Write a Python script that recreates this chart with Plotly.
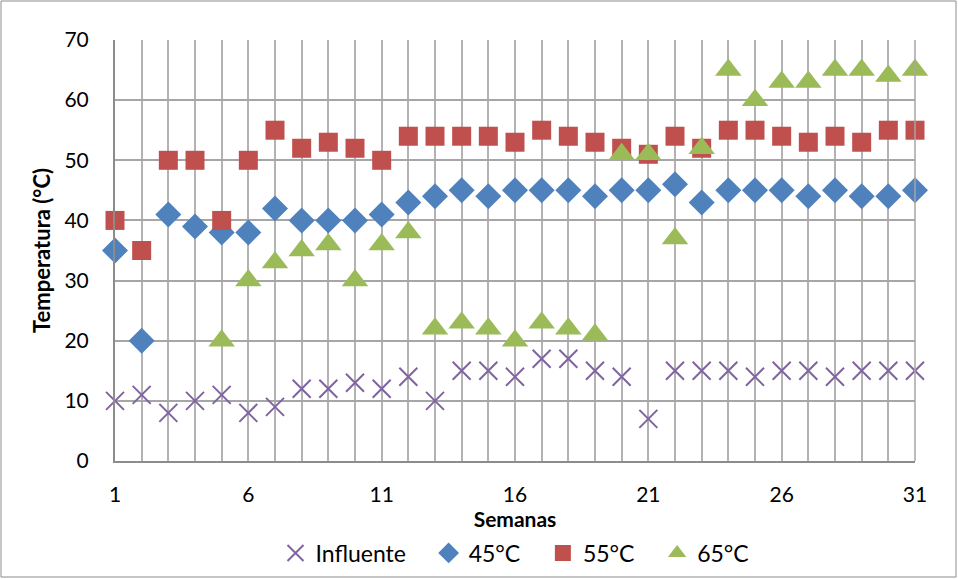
import plotly.graph_objects as go

weeks = list(range(1, 32))
influente = [10, 11, 8, 10, 11, 8, 9, 12, 12, 13, 12, 14, 10, 15, 15, 14, 17, 17, 15, 14, 7, 15, 15, 15, 14, 15, 15, 14, 15, 15, 15]
t45 = [35, 20, 41, 39, 38, 38, 42, 40, 40, 40, 41, 43, 44, 45, 44, 45, 45, 45, 44, 45, 45, 46, 43, 45, 45, 45, 44, 45, 44, 44, 45]
t55 = [40, 35, 50, 50, 40, 50, 55, 52, 53, 52, 50, 54, 54, 54, 54, 53, 55, 54, 53, 52, 51, 54, 52, 55, 55, 54, 53, 54, 53, 55, 55]
t65 = [None, None, None, None, 20, 30, 33, 35, 36, 30, 36, 38, 22, 23, 22, 20, 23, 22, 21, 51, 51, 37, 52, 65, 60, 63, 63, 65, 65, 64, 65]
x_tick_labels = ["1", "6", "11", "16", "21", "26", "31"]
series_names = ["Influente", "45°C", "55°C", "65°C"]

font_family = "Lato, 'Open Sans', sans-serif"
pad = "\u00a0" * 3

fig = go.Figure()
fig.add_trace(go.Scatter(x=weeks, y=influente, mode="markers", name=series_names[0] + pad,
                         marker=dict(symbol="x-thin", size=18, color="#8064A2",
                                     line=dict(color="#8064A2", width=2)),
                         cliponaxis=False))
fig.add_trace(go.Scatter(x=weeks, y=t45, mode="markers", name=series_names[1] + pad,
                         marker=dict(symbol="diamond", size=20, color="#4F81BD"),
                         cliponaxis=False))
fig.add_trace(go.Scatter(x=weeks, y=t55, mode="markers", name=series_names[2] + pad,
                         marker=dict(symbol="square", size=19, color="#C0504D"),
                         cliponaxis=False))
fig.add_trace(go.Scatter(x=weeks, y=t65, mode="markers", name=series_names[3],
                         marker=dict(symbol="triangle-up", size=23, color="#9BBB59"),
                         cliponaxis=False))

tickvals = weeks
ticktext = [str(w) if str(w) in x_tick_labels else "" for w in weeks]

L, R, T, B = 115, 43, 40, 118
W, H = 958, 579
pw, ph = W - L - R, H - T - B

fig.update_layout(
    width=W, height=H,
    margin=dict(l=L, r=R, t=T, b=B, autoexpand=False),
    paper_bgcolor="white", plot_bgcolor="white",
    font=dict(family=font_family, size=21, color="black"),
    xaxis=dict(range=[1, 31], tickvals=tickvals, ticktext=ticktext, automargin=False,
               showgrid=True, gridcolor="#b3b3b3", gridwidth=1.5,
               showline=True, linecolor="#8c8c8c", linewidth=2, mirror=False,
               ticks="", zeroline=False, ticklabelstandoff=14,
               title=dict(text="<b>Semanas</b>", font=dict(size=21), standoff=0)),
    yaxis=dict(range=[0, 70], dtick=10, showgrid=True, gridcolor="#a6a6a6", gridwidth=1.5,
               automargin=False,
               showline=True, linecolor="#8c8c8c", linewidth=2, ticks="", zeroline=False,
               ticklabelstandoff=20,
               title=dict(text="<b>Temperatura (°C)</b>", font=dict(size=22), standoff=8)),
    legend=dict(orientation="h", x=0.5, xanchor="center", y=-92 / ph, yanchor="middle",
                font=dict(size=23), itemwidth=30, tracegroupgap=0),
    showlegend=True,
)

fig.add_shape(type="line", xref="paper", yref="paper", x0=1, x1=1, y0=0, y1=1,
              line=dict(color="#a6a6a6", width=1.5))
fig.add_shape(type="rect", xref="paper", yref="paper",
              x0=(1 - L) / pw, x1=(W - 2 - L) / pw, y0=-(B - 2) / ph, y1=1 + (T - 1) / ph,
              line=dict(color="#8c8c8c", width=1))

fig.write_html("out.html")
